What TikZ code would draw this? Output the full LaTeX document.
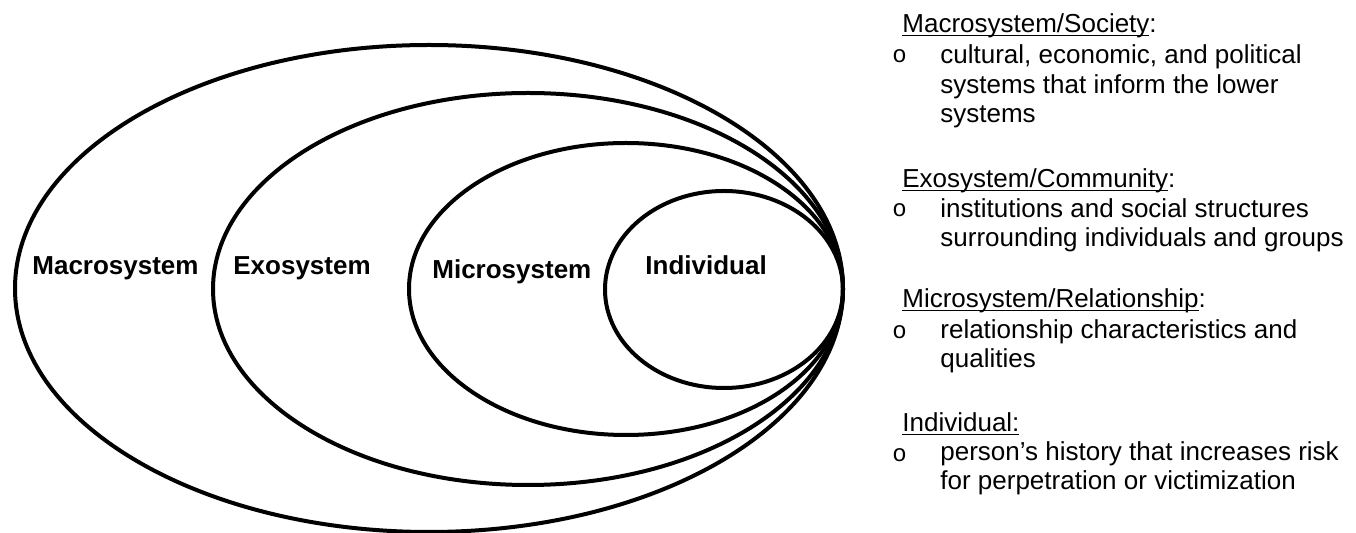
\documentclass[tikz,border=0pt]{standalone}
\usepackage{fontspec}
\setmainfont{Liberation Sans}
\newfontfamily\bulletfont{Liberation Mono}
\usepackage{tikz}
\newcommand{\undertext}[1]{\setbox0\hbox{#1}\rlap{\rule[-1.7pt]{\wd0}{0.8pt}}\box0}
\tikzset{ring/.style={draw, line width=2pt},
	level/.style={font=\fontsize{13pt}{14.75pt}\selectfont\bfseries, anchor=base west, inner sep=0pt},
	head/.style={font=\fontsize{13pt}{14.75pt}\selectfont, anchor=base west, inner sep=0pt},
	dot/.style={font=\fontsize{12pt}{14.75pt}\bulletfont, anchor=base west, inner sep=0pt},
	body/.style={font=\fontsize{13pt}{14.75pt}\selectfont, anchor=base west, inner sep=0pt, align=left}}

\begin{document}
\begin{tikzpicture}[x=0.5pt, y=-0.5pt]
	\useasboundingbox (0,0) rectangle (1356,533);
	% nested systems
	\draw[ring] (429,288.5) ellipse [x radius=414, y radius=243.5];
	\draw[ring] (528,289) ellipse [x radius=315, y radius=196];
	\draw[ring] (626,289) ellipse [x radius=217, y radius=146];
	\draw[ring] (724,289.5) ellipse [x radius=119, y radius=98.5];
	\node[level] (macro) at (32,275) {Macrosystem};
	\node[level] (exo) at (233,275) {Exosystem};
	\node[level] (micro) at (432,279) {Microsystem};
	\node[level] (indiv) at (645,275) {Individual};
	% legend (body nodes sit on their last line)
	\node[head] (macrohead) at (902,33) {\undertext{Macrosystem/Society}:};
	\node[dot] (macrodot) at (892,63) {o};
	\node[body] (macrotext) at (940,123) {cultural, economic, and political\\systems that inform the lower\\systems};
	\node[head] (exohead) at (902,188) {\undertext{Exosystem/Community}:};
	\node[dot] (exodot) at (892,217) {o};
	\node[body] (exotext) at (940,247) {institutions and social structures\\surrounding individuals and groups};
	\node[head] (microhead) at (902,308) {\undertext{Microsystem/Relationship}:};
	\node[dot] (microdot) at (892,339) {o};
	\node[body] (microtext) at (940,368) {relationship characteristics and\\qualities};
	\node[head] (indivhead) at (902,432) {\undertext{Individual:}};
	\node[dot] (indivdot) at (892,462) {o};
	\node[body] (indivtext) at (940,490) {person’s history that increases risk\\for perpetration or victimization};
\end{tikzpicture}
\end{document}
